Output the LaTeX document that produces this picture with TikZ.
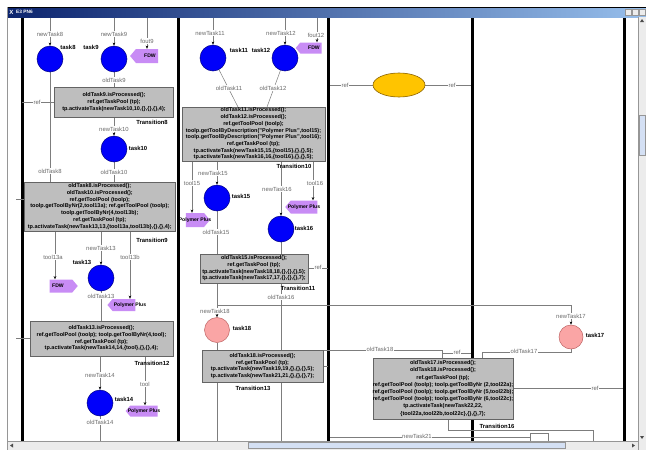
\documentclass[tikz,border=0pt]{standalone}
\usepackage{fontspec}
\setmainfont{Liberation Sans}
\usetikzlibrary{shapes.geometric,shapes.symbols,arrows.meta}
\pgfdeclarelayer{back}
\pgfdeclarelayer{lines}
\pgfsetlayers{back,lines,main}
\definecolor{boxgray}{RGB}{190,190,190}
\definecolor{boxline}{RGB}{100,100,100}
\definecolor{taskblue}{RGB}{0,0,250}
\definecolor{taskblueline}{RGB}{0,0,130}
\definecolor{taskpink}{RGB}{250,165,165}
\definecolor{taskpinkline}{RGB}{190,100,100}
\definecolor{toolpurple}{RGB}{200,140,245}
\definecolor{goldfill}{RGB}{255,196,0}
\definecolor{goldline}{RGB}{140,100,0}
\definecolor{linegray}{RGB}{125,125,125}
\definecolor{labgray}{RGB}{105,105,105}
\definecolor{titleA}{RGB}{12,36,110}
\definecolor{titleB}{RGB}{150,190,235}
\definecolor{scrollbg}{RGB}{236,236,236}
\definecolor{scrollthumb}{RGB}{212,224,244}
\definecolor{framegray}{RGB}{150,150,150}
\tikzset{
  lane/.style={line width=3pt, black},
  conn/.style={draw=linegray, line width=0.5pt},
  arr/.style={conn, -{Stealth[length=3.2pt,width=2.6pt,color=black]}},
  bluetask/.style={circle, draw=taskblueline, fill=taskblue, line width=0.5pt, minimum size=26pt, inner sep=0},
  pinktask/.style={circle, draw=taskpinkline, fill=taskpink, line width=0.5pt, minimum size=25pt, inner sep=0},
  tname/.style={font=\fontsize{5.9}{6}\selectfont\bfseries, inner sep=0.5pt},
  clab/.style={font=\fontsize{5.9}{6}\selectfont, text=labgray, fill=white, inner sep=0.6pt},
  transbox/.style={draw=boxline, fill=boxgray, line width=0.5pt, inner sep=0},
  btext/.style={font=\fontsize{5.5}{6.7}\selectfont\bfseries, align=center, inner sep=0},
  toolL/.style={signal, signal to=west, signal pointer angle=100, fill=toolpurple, inner sep=0},
  toolR/.style={signal, signal to=east, signal pointer angle=100, fill=toolpurple, inner sep=0},
  tooltext/.style={font=\fontsize{5.1}{5}\selectfont\bfseries, inner sep=0},
}
\begin{document}
\begin{tikzpicture}[x=1pt,y=-1pt]
\useasboundingbox (0,0) rectangle (646,450);
\begin{pgfonlayer}{back}
\fill[white] (0,0) rectangle (646,450);
\draw[framegray, line width=0.8pt] (7.5,17) -- (7.5,441);
\foreach \x in {22,178,328,472,624} \draw[lane] (\x,17) -- (\x,441);
\end{pgfonlayer}

% ---------------- lane 1 nodes ----------------
\coordinate (i8) at (50,17);
\coordinate (i9) at (114,17);
\coordinate (if9) at (147,17);
\node[bluetask] (task8) at (50,59) {};
\node[bluetask] (task9) at (114,59) {};
\node[toolL, minimum width=28, minimum height=14] (fdw9) at (147,56) {};
\node[transbox, minimum width=119, minimum height=30] (b1) at (114,102) {};
\node[btext] at (b1) {oldTask9.isProcessed();\\ref.getTaskPool (tp);\\tp.activateTask(newTask10,10,\{\},\{\},\{\},4);};
\coordinate (r1) at (22,102);
\node[bluetask] (task10) at (114,149) {};
\node[transbox, minimum width=151.5, minimum height=49] (b2) at (99.75,206.5) {};
\node[btext] at (b2) {oldTask8.isProcessed();\\oldTask10.isProcessed();\\ref.getToolPool (toolp);\\toolp.getToolByNr(2,tool13a); ref.getToolPool (toolp);\\toolp.getToolByNr(4,tool13b);\\ref.getTaskPool (tp);\\tp.activateTask(newTask13,13,\{tool13a,tool13b\},\{\},\{\},4);};
\coordinate (r2) at (16,199);
\coordinate (c13a) at (55,231);
\coordinate (c13b) at (130,231);
\node[bluetask] (task13) at (101,278) {};
\node[toolR, minimum width=28, minimum height=13] (fdw13) at (61,286) {};
\node[toolL, minimum width=28, minimum height=12] (pp13) at (124,305) {};
\node[transbox, minimum width=143, minimum height=35] (b3) at (101.5,338.5) {};
\node[btext] at (b3) {oldTask13.isProcessed();\\ref.getToolPool (toolp); toolp.getToolByNr(4,tool);\\ref.getTaskPool (tp);\\tp.activateTask(newTask14,14,\{tool\},\{\},\{\},4);};
\coordinate (r3) at (16,338);
\coordinate (c14) at (145,356);
\node[bluetask] (task14) at (100,403) {};
\node[toolL, minimum width=32, minimum height=11] (pp14) at (144,411) {};
\coordinate (o14) at (100,441);

% ---------------- lane 2 nodes ----------------
\coordinate (i11) at (213,17);
\coordinate (i12) at (285,17);
\coordinate (if12) at (317,17);
\node[bluetask] (task11) at (213,58) {};
\node[bluetask] (task12) at (285,58) {};
\node[toolL, minimum width=26, minimum height=11] (fdw12) at (311,48) {};
\node[transbox, minimum width=143, minimum height=54] (b4) at (253.5,134) {};
\node[btext] at (b4) {oldTask11.isProcessed();\\oldTask12.isProcessed();\\ref.getToolPool (toolp);\\toolp.getToolByDescription("Polymer Plus",tool15);\\toolp.getToolByDescription("Polymer Plus",tool16);\\ref.getTaskPool (tp);\\tp.activateTask(newTask15,15,\{tool15\},\{\},\{\},5);\\tp.activateTask(newTask16,16,\{tool16\},\{\},\{\},5);};
\coordinate (b4a) at (238,107);
\coordinate (b4b) at (267,107);
\coordinate (c15) at (192,161);
\coordinate (c16) at (313,161);
\node[bluetask] (task15) at (217,198) {};
\node[bluetask] (task16) at (281,229) {};
\node[toolR, minimum width=24, minimum height=14] (pp15) at (195,220) {};
\node[toolL, minimum width=32, minimum height=13] (pp16) at (304,207) {};
\node[transbox, minimum width=108, minimum height=29] (b5) at (254,268.5) {};
\node[btext] at (b5) {oldTask15.isProcessed();\\ref.getTaskPool (tp);\\tp.activateTask(newTask18,18,\{\},\{\},\{\},5);\\tp.activateTask(newTask17,17,\{\},\{\},\{\},7);};
\coordinate (r5) at (328,268.5);
\node[pinktask] (task18) at (217,330) {};
\node[transbox, minimum width=121, minimum height=32] (b6) at (262.5,366) {};
\node[btext] at (b6) {oldTask18.isProcessed();\\ref.getTaskPool (tp);\\tp.activateTask(newTask19,19,\{\},\{\},\{\},5);\\tp.activateTask(newTask21,21,\{\},\{\},\{\},7);};
\coordinate (r6) at (328,366);
\coordinate (o16) at (281,441);
\coordinate (o18) at (217,441);

% ---------------- lane 3/4 nodes ----------------
\node[ellipse, draw=goldline, fill=goldfill, minimum width=52, minimum height=24, line width=0.6pt] (gold) at (399,85) {};
\coordinate (g1) at (330,85);
\coordinate (g2) at (471,85);
\node[transbox, minimum width=140, minimum height=61] (b7) at (443,388.5) {};
\node[btext, font=\fontsize{5.5}{7.2}\selectfont\bfseries] at (b7) {oldTask17.isProcessed();\\oldTask18.isProcessed();\\ref.getTaskPool (tp);\\ref.getToolPool (toolp); toolp.getToolByNr (2,tool22a);\\ref.getToolPool (toolp); toolp.getToolByNr (5,tool22b);\\ref.getToolPool (toolp); toolp.getToolByNr (6,tool22c);\\tp.activateTask(newTask22,22,\\\{tool22a,tool22b,tool22c\},\{\},\{\},7);};
\node[pinktask, minimum size=24pt] (task17) at (571,337) {};
\coordinate (k17) at (571,305);
\coordinate (k18) at (442,350);
\coordinate (m17) at (482,352);
\coordinate (rt7) at (471,353);
\coordinate (r7) at (623,388.5);
\coordinate (q1) at (448,430);
\coordinate (q2) at (593,430);
\coordinate (q3) at (593,441);
\coordinate (q4) at (530,433);
\coordinate (q5) at (548,433);
\coordinate (n21a) at (330,437);
\coordinate (n21b) at (530,437);

% ---------------- connectors ----------------
\begin{pgfonlayer}{lines}
\draw[arr] (i8) -- (task8);
\draw[arr] (i9) -- (task9);
\draw[arr] (if9) -- (fdw9.north);
\draw[conn] (task9) -- (b1);
\draw[conn] (r1) -- (b1.west |- r1);
\draw[arr] (b1) -- (task10);
\draw[conn] (task8) -- (task8 |- b2.north);
\draw[conn] (task10) -- (b2.north -| task10);
\draw[conn] (r2) -- (b2.west |- r2);
\draw[arr] (c13a) -- (c13a |- fdw13.north);
\draw[arr] (b2.south -| task13) -- (task13);
\draw[arr] (c13b) -- (c13b |- pp13.north);
\draw[conn] (task13) -- (b3.north -| task13);
\draw[conn] (r3) -- (b3.west |- r3);
\draw[arr] (b3.south -| task14) -- (task14);
\draw[arr] (c14) -- (c14 |- pp14.north);
\draw[conn] (task14) -- (o14);
% lane 2
\draw[arr] (i11) -- (task11);
\draw[arr] (i12) -- (task12);
\draw[arr] (if12) -- (if12 |- fdw12.north);
\draw[conn] (task11) -- (b4a);
\draw[conn] (task12) -- (b4b);
\draw[arr] (c15) -- (c15 |- pp15.north);
\draw[arr] (b4.south -| task15) -- (task15);
\draw[arr] (b4.south -| task16) -- (task16);
\draw[arr] (c16) -- (c16 |- pp16.north);
\draw[conn] (task15) -- (b5.north -| task15);
\draw[conn] (b5.east) -- (r5);
\draw[arr] (b5.south -| task18) -- (task18);
\draw[arr] (b5.south -| task18) |- (k17) -- (task17);
\draw[conn] (task16) -- (o16);
\draw[conn] (task18.south) |- (k18) -- (k18 |- b7.north);
\draw[conn] (task18) -- (b6.north -| task18);
\draw[conn] (b6.south -| task18) -- (o18);
\draw[conn] (b6.east) -- (r6);
% lane 3
\draw[conn] (g1) -- (gold);
\draw[conn] (gold) -- (g2);
\draw[conn] (task17.south) |- (m17) -- (m17 |- b7.north);
\draw[conn] (rt7) -- (k18 |- rt7);
\draw[conn] (b7.east) -- (r7);
\draw[conn] (b7.south -| q1) -- (q1) -- (q2) -- (q3);
\draw[conn] (q4) -- (q4 |- q3);
\draw[conn] (q4) -- (q5) -- (q5 |- q3);
\draw[conn] (n21a) -- (n21b);
\end{pgfonlayer}

% ---------------- labels ----------------
\node[clab] at (50,34) {newTask8};
\node[tname] at (68,47) {task8};
\node[clab] at (114,34) {newTask9};
\node[tname] at (91,47) {task9};
\node[clab] at (147,41) {fout9};
\node[tooltext] at ([xshift=3pt]fdw9.center) {FDW};
\node[clab] at (114,80) {oldTask9};
\node[clab] at (37,102) {ref};
\node[tname] at (152,122) {Transition8};
\node[clab] at (114,129) {newTask10};
\node[tname] at (138,148) {task10};
\node[clab] at (50,171) {oldTask8};
\node[clab] at (114,172) {oldTask10};
\node[tname] at (152,240) {Transition9};
\node[clab] at (53,257) {tool13a};
\node[clab] at (101,248) {newTask13};
\node[clab] at (130,257) {tool13b};
\node[tname] at (82,262) {task13};
\node[tooltext] at ([xshift=-3pt]fdw13.center) {FDW};
\node[tooltext] at ([xshift=6pt]pp13.center) {Polymer Plus};
\node[clab] at (101,296) {oldTask13};
\node[tname] at (152,363) {Transition12};
\node[clab] at (100,375) {newTask14};
\node[clab] at (145,384) {tool};
\node[tname] at (124,399) {task14};
\node[tooltext] at (pp14) {Polymer Plus};
\node[clab] at (100,422) {oldTask14};
% lane 2
\node[clab] at (210,33) {newTask11};
\node[tname] at (239,50) {task11};
\node[clab] at (281,33) {newTask12};
\node[tname] at (261,50) {task12};
\node[clab] at (316,35) {fout12};
\node[tooltext] at ([xshift=3pt]fdw12.center) {FDW};
\node[clab] at (229,88) {oldTask11};
\node[clab] at (273,88) {oldTask12};
\node[tname] at (294,166) {Transition10};
\node[clab] at (192,183) {tool15};
\node[clab] at (213,173) {newTask15};
\node[clab] at (277,189) {newTask16};
\node[clab] at (315,183) {tool16};
\node[tname] at (241,196) {task15};
\node[tname] at (304,228) {task16};
\node[tooltext] at (pp15) {Polymer Plus};
\node[tooltext] at (pp16) {Polymer Plus};
\node[clab] at (216,232) {oldTask15};
\node[clab] at (318,267) {ref};
\node[tname] at (298,288) {Transition11};
\node[clab] at (281,297) {oldTask16};
\node[clab] at (215,311) {newTask18};
\node[tname] at (242,328) {task18};
\node[tname] at (253,388) {Transition13};
% lane 3
\node[clab] at (345,85) {ref};
\node[clab] at (452,85) {ref};
\node[clab] at (380,349) {oldTask18};
\node[clab] at (457,352) {ref};
\node[clab] at (524,351) {oldTask17};
\node[clab] at (571,316) {newTask17};
\node[tname] at (595,335) {task17};
\node[clab] at (595,388) {ref};
\node[tname] at (497,426) {Transition16};
\node[clab] at (417,436) {newTask21};

% ---------------- window chrome ----------------
\shade[left color=titleA, right color=titleB] (7,7) rectangle (646,17);
\draw[black, line width=0.6pt] (7,7) -- (646,7);
\node[font=\fontsize{6}{6}\selectfont\bfseries, text=white, inner sep=0] (xicon) at (11.5,12.3) {X};
\node[font=\fontsize{4.8}{5}\selectfont\bfseries, text=white, inner sep=0, anchor=west] (title) at (16,12.3) {E3 PN6};
\foreach \bx in {625,632,639} \draw[fill=scrollbg, draw=framegray, line width=0.3pt] (\bx,9) rectangle ++(6,6);
\fill[scrollbg] (7.5,441) rectangle (646,450);
\draw[framegray, line width=0.3pt] (7.5,441) -- (638,441);
\draw[fill=scrollthumb, draw=framegray, line width=0.3pt] (248,442.5) rectangle (565,448.5);
\fill[black!70] (10,445.5) -- (13,443.5) -- (13,447.5) -- cycle;
\fill[black!70] (635,445.5) -- (632,443.5) -- (632,447.5) -- cycle;
\fill[scrollbg] (638,17) rectangle (646,441);
\draw[framegray, line width=0.3pt] (638,17) -- (638,450);
\draw[fill=scrollthumb, draw=framegray, line width=0.3pt] (639,115) rectangle (645,155);
\fill[black!70] (642,19) -- (640,22) -- (644,22) -- cycle;
\fill[black!70] (642,439) -- (640,436) -- (644,436) -- cycle;
\draw[framegray, line width=0.6pt] (7.3,7) -- (7.3,450);
\end{tikzpicture}
\end{document}
